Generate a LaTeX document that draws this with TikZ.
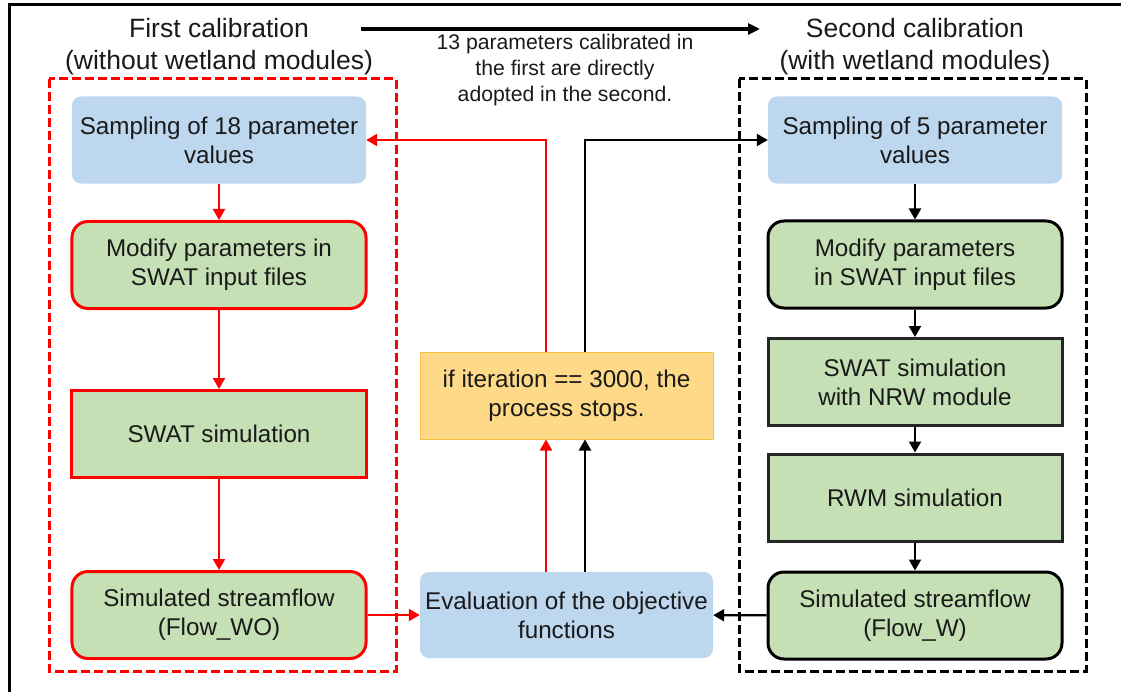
\documentclass[tikz,border=0pt]{standalone}
\usepackage{fontspec}
\setmainfont{Liberation Sans}
\usetikzlibrary{arrows.meta}
\definecolor{bluefill}{HTML}{BDD7EE}
\definecolor{greenfill}{HTML}{C5E0B4}
\definecolor{yellowfill}{HTML}{FED987}
\definecolor{yellowdraw}{HTML}{F7C244}
\definecolor{txt}{HTML}{1A1A1A}
\tikzset{
  box/.style={minimum width=294bp, minimum height=87bp, align=center, inner sep=0pt,
    text=txt, font=\fontsize{24.2bp}{29bp}\selectfont},
  bluebox/.style={box, fill=bluefill, rounded corners=9bp},
  redround/.style={box, fill=greenfill, draw=red, line width=3bp, rounded corners=16bp},
  redrect/.style={box, fill=greenfill, draw=red, line width=3bp},
  blkround/.style={box, fill=greenfill, draw=black, line width=3bp, rounded corners=16bp},
  blkrect/.style={box, fill=greenfill, draw=black!85, line width=3bp},
  yelbox/.style={box, fill=yellowfill, draw=yellowdraw, line width=1bp},
  redarr/.style={draw=red, line width=2.2bp, -{Triangle[length=11bp,width=12bp]}},
  blkarr/.style={draw=black, line width=2.2bp, -{Triangle[length=11bp,width=12bp]}},
  title/.style={align=center, text=txt, font=\fontsize{26.5bp}{32bp}\selectfont, inner sep=0pt},
  note/.style={align=center, text=txt, font=\fontsize{21.2bp}{26bp}\selectfont, inner sep=0pt},
}
\begin{document}
\begin{tikzpicture}[x=1bp,y=-1bp]
\useasboundingbox (0,0) rectangle (1121,692);
% frame
\draw[line width=3bp] (9,692) -- (9,5) -- (1121,5);
% group boxes
\draw[red, line width=3bp, dash pattern=on 9bp off 4bp] (49,79) rectangle (396,671);
\draw[black, line width=3bp, dash pattern=on 9bp off 4bp] (739,79) rectangle (1086,671);
% titles
\node[title] (t1) at (219,47) {First calibration\\(without wetland modules)};
\node[title] (t2) at (915,47) {Second calibration\\(with wetland modules)};
\coordinate (ta) at (361,29);
\coordinate (tb) at (760,29);
\draw[line width=3.5bp, -{Triangle[length=12bp,width=11bp]}] (ta) -- (tb);
\node[note] (n) at (565,70) {13 parameters calibrated in\\the first are directly\\adopted in the second.};
% left column
\node[bluebox] (s18) at (219,140) {Sampling of 18 parameter\\values};
\node[redround] (m1) at (219,265) {Modify parameters in\\SWAT input files};
\node[redrect] (sw1) at (219,434) {SWAT simulation};
\node[redround] (f1) at (219,615) {Simulated streamflow\\(Flow\_WO)};
% right column
\node[bluebox] (s5) at (915,140) {Sampling of 5 parameter\\values};
\node[blkround] (m2) at (915,264.5) {Modify parameters\\in SWAT input files};
\node[blkrect] (sw2) at (915,382) {SWAT simulation\\with NRW module};
\node[blkrect] (rwm) at (915,497.5) {RWM simulation};
\node[blkround] (f2) at (915,615.5) {Simulated streamflow\\(Flow\_W)};
% middle
\node[yelbox, minimum width=293bp] (y) at (566.5,395.5) {if iteration == 3000, the\\process stops.};
\node[bluebox, minimum width=293bp, minimum height=86bp] (ev) at (566.5,615) {Evaluation of the objective\\functions};
% arrows left
\draw[redarr] (s18) -- (m1);
\draw[redarr] (m1) -- (sw1);
\draw[redarr] (sw1) -- (f1);
\draw[redarr] (f1) -- (ev);
% arrows right
\draw[blkarr] (s5) -- (m2);
\draw[blkarr] (m2) -- (sw2);
\draw[blkarr] (sw2) -- (rwm);
\draw[blkarr] (rwm) -- (f2);
\draw[blkarr] (f2) -- (ev);
% loop
\draw[redarr] (ev.north -| 546,0) -- (y.south -| 546,0);
\draw[blkarr] (ev.north -| 585,0) -- (y.south -| 585,0);
\draw[redarr] (y.north -| 546,0) -- (546,140) -- (s18.east |- 0,140);
\draw[blkarr] (y.north -| 585,0) -- (585,140) -- (s5.west |- 0,140);
\end{tikzpicture}
\end{document}
